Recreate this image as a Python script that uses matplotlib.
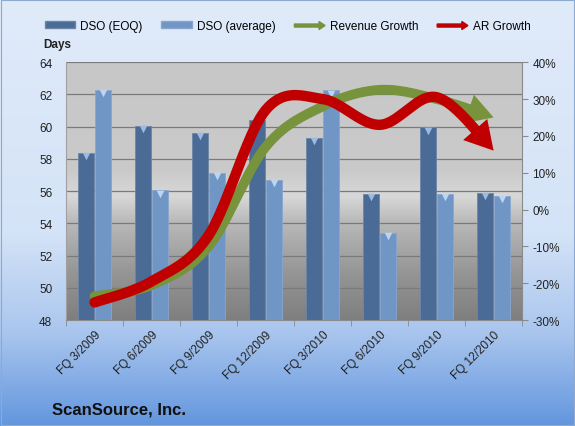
import numpy as np
import matplotlib
matplotlib.use("Agg")
import matplotlib.pyplot as plt
import matplotlib.patches as mpatches
from matplotlib.colors import LinearSegmentedColormap
from matplotlib.legend_handler import HandlerPatch

plt.rcParams['font.family'] = ['Liberation Sans', 'DejaVu Sans']

quarters = ['FQ 3/2009', 'FQ 6/2009', 'FQ 9/2009', 'FQ 12/2009',
            'FQ 3/2010', 'FQ 6/2010', 'FQ 9/2010', 'FQ 12/2010']
dso_eoq = [58.35, 60.05, 59.6, 60.4, 59.3, 55.85, 59.95, 55.9]
dso_avg = [62.3, 56.05, 57.15, 56.7, 62.25, 53.4, 55.85, 55.7]
revenue_growth = [-23.5, -20.5, -10.0, 17.0, 28.0, 32.5, 30.0, 25.0]
ar_growth = [-25.2, -19.5, -7.0, 27.0, 30.0, 23.0, 30.5, 16.0]

left_ticks = [48, 50, 52, 54, 56, 58, 60, 62, 64]
right_ticks = [-30, -20, -10, 0, 10, 20, 30, 40]

EOQ_COLOR = '#4a6b95'
AVG_COLOR = '#6f96c5'
GREEN = '#77933c'
RED = '#c00000'


def smooth(xs, ys, n=40):
    # catmull-rom style smoothing like excel's "smoothed line"
    xs = np.asarray(xs, float)
    ys = np.asarray(ys, float)
    px = np.concatenate([[xs[0]], xs, [xs[-1]]])
    py = np.concatenate([[ys[0]], ys, [ys[-1]]])
    outx, outy = [], []
    for i in range(1, len(px) - 2):
        t = np.linspace(0, 1, n, endpoint=False)
        for arr, out in ((px, outx), (py, outy)):
            p0, p1, p2, p3 = arr[i - 1], arr[i], arr[i + 1], arr[i + 2]
            c1 = p1 + (p2 - p0) / 6
            c2 = p2 - (p3 - p1) / 6
            out.extend((1 - t) ** 3 * p1 + 3 * (1 - t) ** 2 * t * c1
                       + 3 * (1 - t) * t ** 2 * c2 + t ** 3 * p2)
    outx.append(xs[-1])
    outy.append(ys[-1])
    return np.array(outx), np.array(outy)


def gradient(ax, stops):
    # stop 0 is the top edge, 1 the bottom edge
    cmap = LinearSegmentedColormap.from_list('g', stops)
    grad = np.linspace(0, 1, 256).reshape(-1, 1)
    ax.imshow(grad, aspect='auto', cmap=cmap, extent=[0, 1, 0, 1], origin='upper',
              transform=ax.transAxes, zorder=-10, interpolation='bicubic')


fig = plt.figure(figsize=(5.75, 4.27), dpi=100)

bg = fig.add_axes([0, 0, 1, 1])
bg.set_xlim(0, 1)
bg.set_ylim(0, 1)
gradient(bg, [(0, '#e0ebfa'), (0.55, '#d4e3f7'), (0.78, '#aac6ee'), (1.0, '#6396de')])
bg.axis('off')
bg.add_patch(mpatches.Rectangle((0.002, 0.002), 0.996, 0.996, fill=False,
                                ec='#8ea9cf', lw=0.8, transform=bg.transAxes))

ax = fig.add_axes([0.115, 0.248, 0.793, 0.604])
gradient(ax, [(0, '#c7c7c7'), (0.42, '#cacaca'), (0.52, '#d8d8d8'),
              (0.62, '#b9b9b9'), (0.82, '#959595'), (1.0, '#7f7f7f')])

x = np.arange(len(quarters))
w = 0.28
ax.bar(x - 0.155, np.array(dso_eoq) - 48, w, bottom=48, color=EOQ_COLOR,
       edgecolor='#6d86a8', lw=0.6, zorder=2)
ax.bar(x + 0.155, np.array(dso_avg) - 48, w, bottom=48, color=AVG_COLOR,
       edgecolor='#8aa6cb', lw=0.6, zorder=2)
ax.scatter(x - 0.155, np.array(dso_eoq) - 0.2, marker='v', s=30, color='#9dbbe0',
           zorder=3, lw=0)
ax.scatter(x + 0.155, np.array(dso_avg) - 0.2, marker='v', s=30, color='#bcd6f2',
           zorder=3, lw=0)

ax.set_ylim(48, 64)
ax.set_xlim(-0.5, len(quarters) - 0.5)
ax.set_yticks(left_ticks)
ax.grid(axis='y', color='#7a7a7a', lw=0.9, zorder=1)
ax.set_axisbelow(True)
ax.tick_params(axis='y', length=0, labelsize=8.5, colors='#222222', pad=10)
ax.set_xticks(x)
ax.set_xticklabels(quarters, rotation=45, ha='right', va='top',
                   rotation_mode='anchor', fontsize=8.5, color='#222222')
ax.tick_params(axis='x', which='major', length=0, pad=6)
ax.set_xticks(np.arange(-0.5, len(quarters)), minor=True)
ax.tick_params(axis='x', which='minor', length=4, color='#8a8a8a', direction='out')
for s in ('top', 'right'):
    ax.spines[s].set_visible(False)
ax.spines['left'].set_color('#a0a0a0')
ax.spines['bottom'].set_color('#8a8a8a')

ax2 = ax.twinx()
ax2.set_ylim(-30, 40)
ax2.set_yticks(right_ticks)
ax2.set_yticklabels([f'{t}%' for t in right_ticks])
ax2.tick_params(axis='y', length=4, color='#8a8a8a', direction='out',
                labelsize=8.5, colors='#222222')
ax2.tick_params(axis='y', color='#8a8a8a')
for s in ('top', 'left', 'bottom'):
    ax2.spines[s].set_visible(False)
ax2.spines['right'].set_color('#8a8a8a')


def arrow_line(axis, xs, ys, color, lw, head_len_px, head_w_px):
    sx, sy = smooth(xs, ys)
    disp = axis.transData.transform(np.column_stack([sx, sy]))
    tip = disp[-1]
    dist = np.hypot(*(disp - tip).T)
    keep = dist >= head_len_px * 0.8
    axis.plot(sx[keep], sy[keep], color=color, lw=lw, solid_capstyle='round', zorder=4)
    j = np.where(dist >= head_len_px)[0][-1]
    base = disp[j]
    d = (tip - base) / np.hypot(*(tip - base))
    nrm = np.array([-d[1], d[0]])
    b = tip - d * head_len_px
    pts = np.array([tip, b + nrm * head_w_px / 2, b - nrm * head_w_px / 2])
    pts = axis.transData.inverted().transform(pts)
    axis.add_patch(mpatches.Polygon(pts, closed=True, color=color, lw=0, zorder=4))


fig.canvas.draw()
arrow_line(ax2, x, revenue_growth, GREEN, 7.0, 26, 30)
arrow_line(ax2, x, ar_growth, RED, 7.5, 28, 32)

fig.text(0.1, 0.888, 'Days', fontsize=8.5, fontweight='bold', color='#222222',
         ha='center')
fig.text(0.09, 0.03, 'ScanSource, Inc.', fontsize=12, fontweight='bold',
         color='#111111')


def make_arrow(legend, orig_handle, xdescent, ydescent, width, height, fontsize):
    return mpatches.FancyArrow(0, height / 2, width, 0, width=height * 0.45,
                               head_width=height * 1.2, head_length=height * 0.9,
                               length_includes_head=True)


handles = [mpatches.Patch(color=EOQ_COLOR, ec='#6d86a8'),
           mpatches.Patch(color=AVG_COLOR, ec='#8aa6cb'),
           mpatches.FancyArrow(0, 0, 1, 0, color=GREEN),
           mpatches.FancyArrow(0, 0, 1, 0, color=RED)]
labels = ['DSO (EOQ)', 'DSO (average)', 'Revenue Growth', 'AR Growth']
fig.legend(handles, labels, loc='center', bbox_to_anchor=(0.5, 0.937), ncol=4,
           frameon=False, fontsize=8.5, handlelength=2.6, handleheight=0.5,
           columnspacing=1.6, handletextpad=0.4,
           handler_map={mpatches.FancyArrow: HandlerPatch(patch_func=make_arrow)})

fig.savefig('out.png', dpi=100)
